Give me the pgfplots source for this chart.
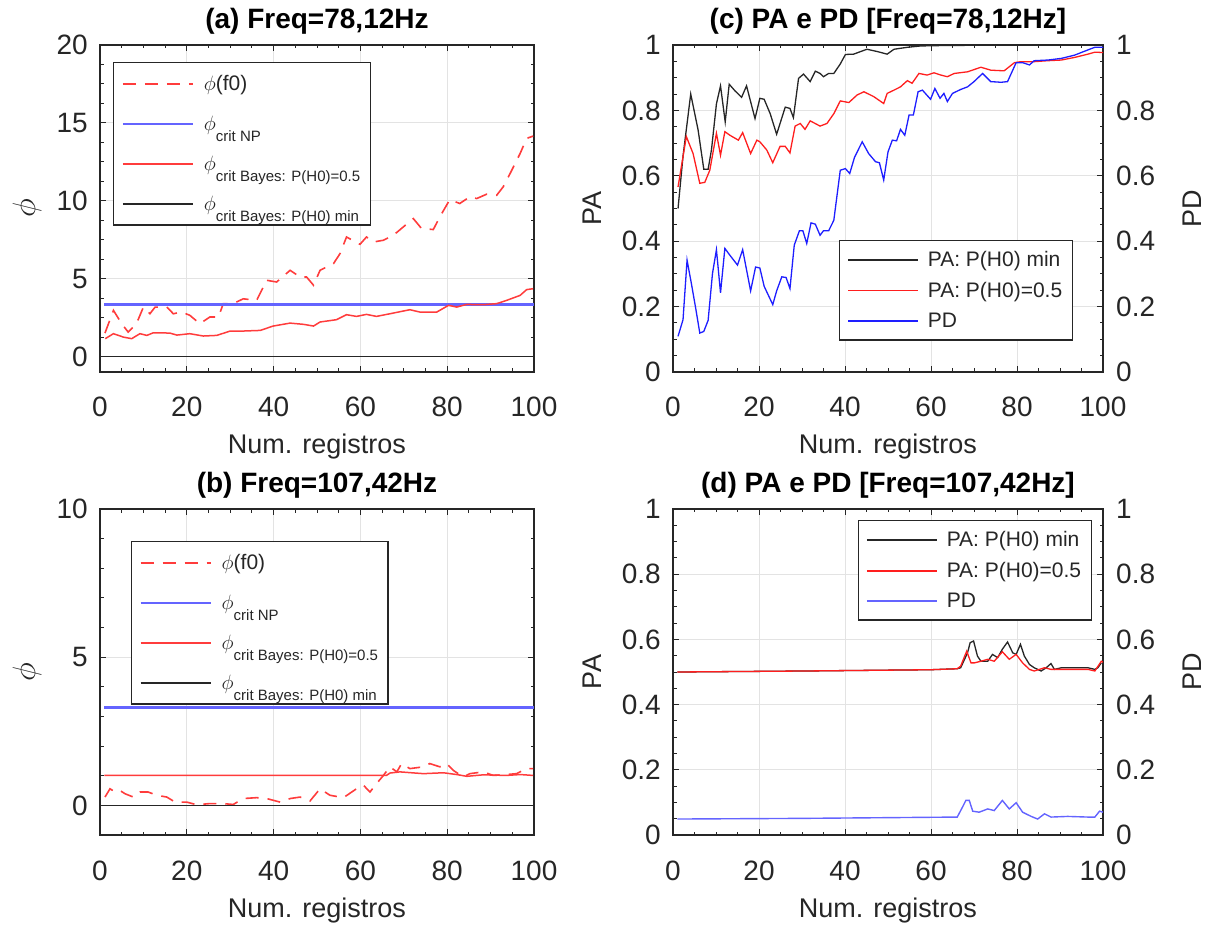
\documentclass[border=0pt]{standalone}
\usepackage{fontspec}
\setmainfont{Liberation Sans}
\usepackage{graphicx}
\usepackage{pgfplots}
\pgfplotsset{compat=1.18}
\definecolor{axcol}{HTML}{262626}
\definecolor{gridcol}{HTML}{E3E3E3}
\definecolor{redA}{HTML}{FF3C3C}
\definecolor{blueA}{HTML}{6464FF}
\definecolor{redC}{HTML}{FF1E1E}
\definecolor{blueC}{HTML}{1E1EFF}
\pgfplotsset{
  myaxis/.style={
    scale only axis,
    xmin=0, xmax=100, xtick={0,20,40,60,80,100}, minor x tick num=3,
    tick align=inside, major tick length=6pt, minor tick length=3.5pt,
    axis line style={draw=axcol, line width=1.3pt},
    every tick/.style={draw=axcol, line width=0.9pt},
    xmajorgrids, ymajorgrids, major grid style={draw=gridcol, line width=0.9pt},
    tick label style={font=\fontsize{28}{32}\selectfont, text=axcol},
    /pgf/number format/assume math mode=true,
    xticklabel style={anchor=base, yshift=-45pt},
    yticklabel style={anchor=east, inner sep=0pt, xshift=-12pt},
    xlabel style={at={(axis description cs:0.5,0)}, anchor=base, yshift=-82pt, font=\fontsize{27}{32}\selectfont, text=axcol},
    title style={at={(axis description cs:0.5,1)}, anchor=base, yshift=10pt, font=\fontsize{28}{32}\selectfont\bfseries, text=black},
    legend cell align=left,
    legend image code/.code={\draw[##1] (0pt,0pt) -- (70pt,0pt);},
  },
  rightaxis/.style={
    scale only axis, xmin=0, xmax=100, ymin=0, ymax=1,
    hide x axis, axis y line*=right, y axis line style={draw=none},
    major tick length=0pt, minor tick num=0,
    ytick={0,0.2,0.4,0.6,0.8,1},
    /pgf/number format/assume math mode=true,
    yticklabel style={anchor=west, inner sep=0pt, xshift=13pt, font=\fontsize{28}{32}\selectfont, text=axcol},
    ylabel style={at={(axis description cs:1.207,0.5)}, anchor=center, font=\fontsize{27}{32}\selectfont, text=axcol},
  },
  phileg/.style={draw=axcol, line width=1.3pt, font=\fontsize{21}{25}\selectfont, text=axcol, inner xsep=8pt, inner ysep=11pt, row sep=20pt, column sep=8pt},
  paleg/.style={draw=axcol, line width=1.3pt, font=\fontsize{21}{25}\selectfont, text=axcol, inner xsep=8pt, inner ysep=9pt, row sep=10pt, column sep=7pt},
}
\newcommand{\sub}[1]{\raisebox{-11pt}{\fontsize{15}{18}\selectfont #1}}
\newcommand{\bigphi}{\scalebox{1.3}{$\phi$}}
\begin{document}
\begin{tikzpicture}
\useasboundingbox (0,0) rectangle (1210pt,927pt);
% ---------------- (a)
\begin{axis}[myaxis, at={(100pt,555pt)}, anchor=south west, width=434pt, height=327pt,
  ymin=-1, ymax=20, ytick={0,5,10,15,20}, minor y tick num=3,
  title={(a) Freq=78,12Hz}, xlabel={Num. registros}, ylabel={\bigphi},
  ylabel style={at={(axis description cs:-0.168,0.5)}, anchor=center, font=\fontsize{25}{30}\selectfont, text=axcol},
  legend style={at={(0.03,0.948)}, anchor=north west, phileg}]
\addplot[redA, line width=1.6pt, dash pattern=on 13pt off 9pt] coordinates {
(1.15,1.5) (3.1,2.96) (5.0,2.1) (6.5,1.56) (8.4,2.1) (10.0,3.17) (11.5,2.74) (12.7,3.17) (15.4,3.17) (16.9,2.74)
(18.8,2.85) (20.7,2.64) (23.0,2.1) (25.3,2.53) (27.3,2.53) (28.4,3.39) (30.7,3.39) (33.0,3.7) (36.1,3.6) (38.4,4.89)
(40.7,4.78) (43.8,5.53) (46.1,5.1) (47.6,5.1) (49.2,4.57) (50.7,5.53) (53.8,5.96) (55.3,6.6) (56.8,7.67) (59.9,7.2)
(61.4,7.67) (63.0,7.35) (65.3,7.46) (67.6,7.78) (69.9,8.32) (72.2,8.85) (74.1,8.21) (76.8,8.15) (78.3,8.96) (80.6,10.07)
(82.9,9.82) (85.2,10.25) (86.8,10.14) (89.1,10.42) (91.4,10.35) (92.9,10.89) (94.5,11.75) (96.8,13.03) (98.3,14.0) (99.8,14.15)};
\addlegendentry{$\phi$(f0)}
\addplot[blueA, line width=2.2pt] coordinates {(1,3.34) (100,3.34)};
\addlegendentry{$\phi$\sub{crit NP}}
\addplot[redA, line width=1.5pt] coordinates {
(1.2,1.14) (3.1,1.46) (5.4,1.24) (7.3,1.14) (9.2,1.46) (10.8,1.35) (12.3,1.52) (16.1,1.5) (17.7,1.37) (20.7,1.46)
(23.8,1.31) (26.9,1.35) (30.0,1.63) (33.0,1.63) (36.9,1.67) (39.9,1.95) (43.8,2.14) (46.9,2.06) (49.2,1.95) (50.7,2.21)
(54.5,2.36) (56.8,2.68) (59.1,2.57) (61.4,2.7) (63.7,2.57) (66.8,2.74) (71.4,3.0) (73.7,2.85) (77.6,2.85) (80.3,3.28)
(82.2,3.17) (84.5,3.34) (88.3,3.32) (91.4,3.39) (93.7,3.6) (96.8,3.92) (98.3,4.29) (99.8,4.35)};
\addlegendentry{$\phi$\sub{crit Bayes: P(H0)=0.5}}
\addplot[axcol, line width=1.3pt] coordinates {(1,0) (100,0)};
\addlegendentry{$\phi$\sub{crit Bayes: P(H0) min}}
\end{axis}
% ---------------- (b)
\begin{axis}[myaxis, at={(100pt,92pt)}, anchor=south west, width=434pt, height=326pt,
  ymin=-1, ymax=10, ytick={0,5,10}, minor y tick num=4,
  title={(b) Freq=107,42Hz}, xlabel={Num. registros}, ylabel={\bigphi},
  ylabel style={at={(axis description cs:-0.168,0.5)}, anchor=center, font=\fontsize{25}{30}\selectfont, text=axcol},
  legend style={at={(0.071,0.902)}, anchor=north west, phileg}]
\addplot[redA, line width=1.6pt, dash pattern=on 13pt off 9pt] coordinates {
(1.15,0.28) (2.3,0.56) (3.5,0.45) (4.6,0.5) (5.8,0.39) (7.7,0.28) (9.2,0.45) (11.1,0.45) (13.1,0.34) (15.4,0.28)
(17.3,0.11) (20.0,0.11) (22.3,0.02) (25.3,0.06) (28.4,0.06) (30.7,0.03) (33.0,0.23) (36.1,0.26) (38.4,0.23) (41.5,0.11)
(43.8,0.23) (46.1,0.28) (48.4,0.15) (50.7,0.56) (53.0,0.34) (56.1,0.26) (59.1,0.56) (60.7,0.68) (62.2,0.45) (63.7,0.73)
(65.3,1.01) (66.8,1.3) (68.4,1.13) (69.5,1.41) (71.4,1.24) (74.5,1.3) (76.0,1.41) (78.3,1.3) (79.9,1.41) (81.4,1.18)
(83.7,0.96) (85.2,1.07) (88.3,1.13) (90.6,1.01) (93.7,1.04) (96.0,1.07) (98.3,1.24) (99.8,1.24)};
\addlegendentry{$\phi$(f0)}
\addplot[blueA, line width=2.2pt] coordinates {(1,3.3) (100,3.3)};
\addlegendentry{$\phi$\sub{crit NP}}
\addplot[redA, line width=1.5pt] coordinates {
(1,1.01) (30,1.01) (66.0,1.01) (66.8,1.09) (69.1,1.13) (74.5,1.07) (79.1,1.10) (82.2,1.04) (84.5,0.98) (88.3,1.03)
(93.7,1.01) (96.8,1.04) (99.8,1.01)};
\addlegendentry{$\phi$\sub{crit Bayes: P(H0)=0.5}}
\addplot[axcol, line width=1.3pt] coordinates {(1,0) (100,0)};
\addlegendentry{$\phi$\sub{crit Bayes: P(H0) min}}
\end{axis}
% ---------------- (c)
\begin{axis}[myaxis, at={(673pt,555pt)}, anchor=south west, width=430pt, height=327pt,
  ymin=0, ymax=1, ytick={0,0.2,0.4,0.6,0.8,1}, minor y tick num=3,
  title={(c) PA e PD [Freq=78,12Hz]}, xlabel={Num. registros}, ylabel={PA},
  ylabel style={at={(axis description cs:-0.188,0.5)}, anchor=center, font=\fontsize{27}{32}\selectfont, text=axcol},
  legend image post style={line width=1.6pt},
  legend style={at={(0.385,0.404)}, anchor=north west, paleg}]
\addplot[axcol, line width=1.3pt] coordinates {
(1.17,0.5) (2.33,0.66) (4.12,0.85) (5.84,0.74) (7.16,0.62) (8.17,0.62) (8.95,0.68) (10.1,0.82) (11.05,0.875) (12.14,0.765)
(13.07,0.88) (14.4,0.86) (15.95,0.84) (17.1,0.875) (19.07,0.775) (20.2,0.837) (21.2,0.834) (22.6,0.79) (24.1,0.727) (26.1,0.81)
(27.2,0.806) (28.0,0.778) (29.2,0.898) (30.35,0.911) (31.9,0.888) (33.1,0.92) (34.2,0.913) (35.0,0.903) (36.2,0.913) (37.4,0.913)
(38.9,0.942) (40.1,0.971) (42.0,0.972) (45.1,0.987) (47.5,0.98) (49.8,0.972) (51.4,0.987) (54.5,0.993) (57.6,0.997) (60.7,0.998)
(68.5,0.999) (76.3,0.999) (84.0,0.999) (100,0.999)};
\addlegendentry{PA: P(H0) min}
\addplot[redC, line width=1.3pt] coordinates {
(1.17,0.566) (3.1,0.72) (4.67,0.668) (6.23,0.577) (7.39,0.58) (8.56,0.617) (10.1,0.73) (11.05,0.663) (12.06,0.735) (13.23,0.724)
(15.2,0.709) (16.2,0.732) (18.05,0.668) (19.5,0.709) (20.2,0.704) (21.8,0.679) (23.2,0.64) (24.9,0.69) (26.1,0.69) (27.2,0.67)
(28.4,0.752) (29.6,0.76) (30.7,0.742) (31.9,0.768) (34.2,0.752) (35.8,0.76) (37.4,0.79) (38.9,0.829) (40.9,0.824) (42.8,0.847)
(44.4,0.857) (46.7,0.842) (49.0,0.821) (49.8,0.852) (51.4,0.862) (52.9,0.872) (54.5,0.891) (55.6,0.883) (57.2,0.913) (59.1,0.908)
(60.7,0.915) (62.3,0.908) (63.8,0.903) (65.4,0.913) (68.5,0.918) (71.6,0.932) (73.9,0.923) (77.0,0.921) (79.4,0.946) (80.9,0.949)
(84.0,0.949) (87.2,0.952) (90.3,0.954) (93.4,0.962) (96.5,0.972) (98.1,0.978) (100,0.977)};
\addlegendentry{PA: P(H0)=0.5}
\addplot[blueC, line width=1.3pt] coordinates {
(1.17,0.109) (2.33,0.16) (3.27,0.342) (4.28,0.27) (5.29,0.194) (6.23,0.119) (7.16,0.124) (8.17,0.158) (9.18,0.301) (10.1,0.374)
(11.05,0.242) (12.06,0.378) (13.23,0.357) (15.0,0.327) (16.2,0.374) (18.05,0.248) (19.2,0.321) (20.2,0.318) (21.2,0.262) (23.2,0.206)
(24.1,0.248) (25.3,0.291) (26.3,0.289) (27.2,0.255) (28.2,0.388) (29.4,0.432) (30.2,0.432) (31.1,0.393) (32.1,0.456) (33.1,0.452)
(34.2,0.418) (35.0,0.432) (36.2,0.432) (37.4,0.464) (38.9,0.617) (40.1,0.622) (41.1,0.607) (42.2,0.656) (44.0,0.704) (45.5,0.668)
(47.1,0.643) (48.0,0.64) (49.0,0.587) (50.0,0.673) (51.0,0.709) (52.0,0.707) (52.9,0.742) (53.9,0.724) (54.9,0.786) (55.9,0.786)
(57.0,0.857) (58.0,0.862) (59.9,0.834) (60.9,0.867) (62.1,0.837) (63.0,0.852) (63.8,0.827) (65.0,0.852) (66.9,0.864) (68.5,0.872)
(70.0,0.888) (72.0,0.913) (73.9,0.888) (76.3,0.886) (77.8,0.888) (79.8,0.946) (81.3,0.946) (82.9,0.939) (84.0,0.952) (87.2,0.954)
(90.3,0.959) (93.4,0.969) (96.5,0.985) (98.1,0.993) (100,0.993)};
\addlegendentry{PD}
\end{axis}
\begin{axis}[rightaxis, at={(673pt,555pt)}, anchor=south west, width=430pt, height=327pt, ylabel={PD}]
\addplot[draw=none] coordinates {(0,0) (100,1)};
\end{axis}
% ---------------- (d)
\begin{axis}[myaxis, at={(673pt,92pt)}, anchor=south west, width=430pt, height=326pt,
  ymin=0, ymax=1, ytick={0,0.2,0.4,0.6,0.8,1}, minor y tick num=3,
  title={(d) PA e PD [Freq=107,42Hz]}, xlabel={Num. registros}, ylabel={PA},
  ylabel style={at={(axis description cs:-0.188,0.5)}, anchor=center, font=\fontsize{27}{32}\selectfont, text=axcol},
  legend image post style={line width=1.6pt},
  legend style={at={(0.974,0.966)}, anchor=north east, paleg}]
\addplot[axcol, line width=1.3pt] coordinates {
(1,0.5) (30,0.503) (60,0.507) (66.1,0.51) (66.9,0.513) (68.5,0.559) (69.1,0.59) (69.9,0.595) (70.8,0.549) (71.6,0.533)
(73.2,0.533) (74.3,0.554) (75.5,0.544) (76.6,0.57) (77.8,0.592) (79.0,0.559) (79.8,0.554) (80.8,0.585) (81.7,0.549) (82.9,0.523)
(84.0,0.513) (85.6,0.503) (86.8,0.513) (87.9,0.526) (88.7,0.508) (90.3,0.513) (93.4,0.513) (96.5,0.513) (98.1,0.508) (98.8,0.513) (99.6,0.528)};
\addlegendentry{PA: P(H0) min}
\addplot[redC, line width=1.3pt] coordinates {
(1,0.5) (30,0.503) (60,0.507) (66.1,0.51) (66.9,0.518) (68.3,0.564) (69.3,0.528) (70.1,0.528) (71.6,0.533) (73.2,0.539)
(74.7,0.533) (76.6,0.562) (78.2,0.539) (79.8,0.554) (81.3,0.528) (82.9,0.508) (84.0,0.503) (86.4,0.513) (87.9,0.508) (91.8,0.508)
(96.5,0.508) (98.1,0.503) (99.6,0.533) (100,0.53)};
\addlegendentry{PA: P(H0)=0.5}
\addplot[blueA, line width=1.4pt] coordinates {
(1,0.049) (30,0.051) (66.1,0.055) (67.3,0.085) (68.1,0.106) (68.9,0.106) (69.7,0.073) (71.2,0.07) (73.2,0.08) (74.7,0.075)
(76.6,0.106) (78.2,0.08) (79.8,0.099) (81.3,0.07) (83.3,0.057) (84.8,0.049) (86.4,0.065) (87.9,0.055) (91.8,0.057) (96.5,0.055)
(98.1,0.055) (99.2,0.073) (100,0.07)};
\addlegendentry{PD}
\end{axis}
\begin{axis}[rightaxis, at={(673pt,92pt)}, anchor=south west, width=430pt, height=326pt, ylabel={PD}]
\addplot[draw=none] coordinates {(0,0) (100,1)};
\end{axis}
\end{tikzpicture}
\end{document}
